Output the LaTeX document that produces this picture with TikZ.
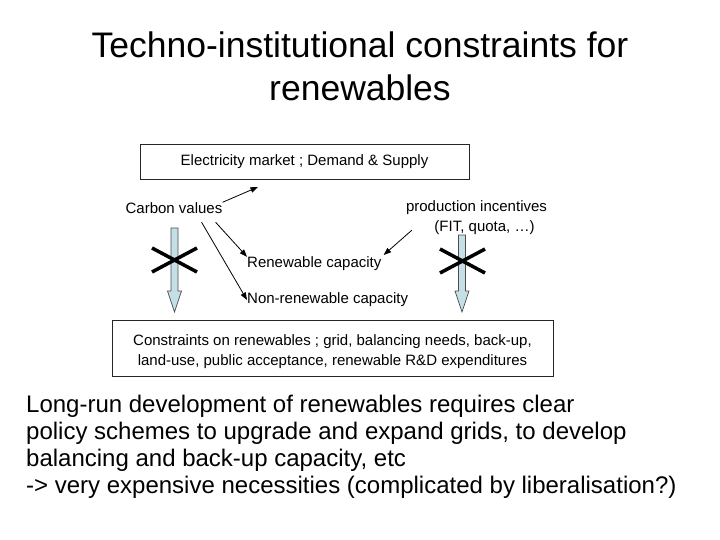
\documentclass[tikz,border=0pt]{standalone}
\usepackage{fontspec}
\setmainfont{Liberation Sans}
\usetikzlibrary{arrows.meta}
\definecolor{arrowblue}{RGB}{196,224,230}
\newcommand*{\lblfont}{\fontsize{15}{20}\selectfont}

\begin{document}
\begin{tikzpicture}[x=1pt,y=-1pt,>={Triangle[length=7.5pt,width=5.5pt]},
      every node/.style={inner sep=0pt},
      box/.style={draw=black!85,line width=0.9pt,rectangle},
      lbl/.style={font=\lblfont},
      body/.style={anchor=base west,font=\fontsize{24}{27}\selectfont},
      blockarrow/.style={draw=black!70,line width=0.7pt,fill=arrowblue},
      crossout/.style={line width=3.5pt,black},
      blockdown/.pic={\draw[blockarrow] (-3.5,0) -- (-3.5,{#1-21}) -- (-7,{#1-21})
        -- (0,#1) -- (7,{#1-21}) -- (3.5,{#1-21}) -- (3.5,0) -- cycle;},
      xmark/.pic={\draw[crossout] (-22.5,-12) -- (22.5,12) (-22.5,12) -- (22.5,-12);}]
  \useasboundingbox (0,0) rectangle (720,540);
  \node[anchor=base,font=\fontsize{35.5}{43}\selectfont] (title) at (360,58) {Techno-institutional constraints for};
  \node[anchor=base,font=\fontsize{35.5}{43}\selectfont] (title_2) at (360,101) {renewables};

  \node[box,lbl,minimum width=329,minimum height=35] (mkt) at (304.5,161.5) {Electricity market ; Demand \& Supply};
  \node[lbl] (cv) at (174,208) {Carbon values};
  \node[lbl,align=center] (pi) at (476.5,218) {production incentives\\\hspace*{16pt}(FIT, quota, …)};
  \node[lbl,anchor=west] (rc) at (247,264) {Renewable capacity};
  \node[lbl,anchor=west] (nrc) at (247,300) {Non-renewable capacity};
  \node[box,minimum width=441,minimum height=56] (cons) at (332.5,348) {};
  \node[lbl,align=center] (cons_t) at ([yshift=-4pt]cons.center)
    {Constraints on renewables ; grid, balancing needs, back-up,\\land-use, public acceptance, renewable R\&D expenditures};
  \coordinate (mkt_in) at (258,187);

  \draw[->,line width=0.8pt] (cv.north east) -- (mkt_in);
  \draw[->,line width=0.8pt] ([xshift=-7pt,yshift=-8.5pt]cv.south east) -- (rc.north west);
  \draw[->,line width=0.8pt] ([xshift=-21pt,yshift=-8.5pt]cv.south east) -- (nrc.west);
  \draw[->,line width=0.8pt] ([xshift=6pt,yshift=5pt]pi.south west) -- ([xshift=2pt,yshift=9pt]rc.east);

  % blocked links down to the constraints
  \pic at (174.5,228) {blockdown=84};
  \pic at (462,235) {blockdown=77};
  \pic at (174.5,260) {xmark};
  \pic at (462.5,261) {xmark};

  \node[body] (txt_1) at (26,412) {Long-run development of renewables requires clear};
  \node[body] (txt_2) at (26,439) {policy schemes to upgrade and expand grids, to develop};
  \node[body] (txt_3) at (26,466) {balancing and back-up capacity, etc};
  \node[body] (txt_4) at (26,493) {-> very expensive necessities (complicated by liberalisation?)};
\end{tikzpicture}
\end{document}
